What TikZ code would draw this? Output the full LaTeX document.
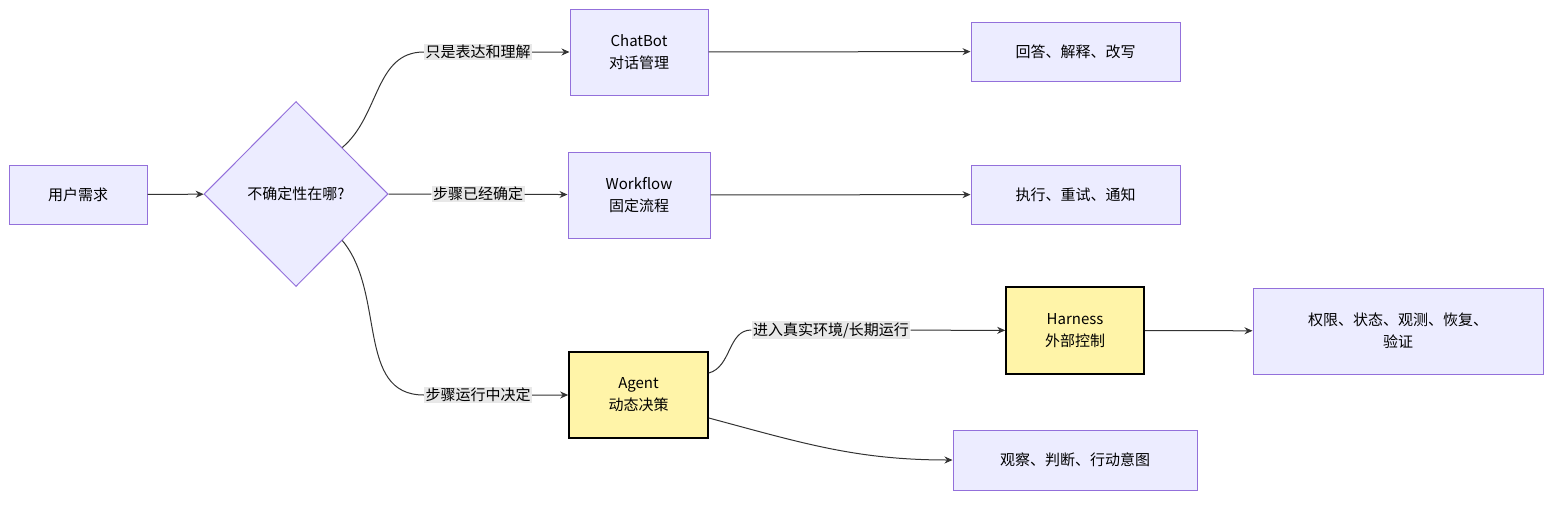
\documentclass[tikz,border=0pt]{standalone}
\usepackage{fontspec}
\setmainfont{Noto Sans CJK SC}
\usetikzlibrary{shapes.geometric,arrows.meta}
\definecolor{boxfill}{HTML}{ECECFF}
\definecolor{boxline}{HTML}{9370DB}
\definecolor{keyfill}{HTML}{FFF4A8}
\definecolor{edgecol}{HTML}{333333}
\definecolor{lblfill}{HTML}{E8E8E8}
\begin{document}
\begin{tikzpicture}[x=1pt,y=-1pt,font=\fontsize{15}{22}\selectfont]

\tikzset{box/.style={rectangle, draw=boxline, fill=boxfill, line width=1pt, align=center, inner sep=0pt}}
\tikzset{key/.style={box, draw=black, fill=keyfill, line width=1.6pt}}
\tikzset{choice/.style={diamond, draw=boxline, fill=boxfill, line width=1pt, inner sep=0pt, minimum width=184pt, minimum height=185pt}}
\tikzset{lbl/.style={fill=lblfill, inner sep=1.5pt}}
\tikzset{edge/.style={draw=edgecol, line width=1pt, -{Stealth[length=8pt,width=7pt]}}}

\useasboundingbox (0,0) rectangle (1568,506);

% Define nodes
\node (need) [box, minimum width=138pt, minimum height=59pt] at (78,194.5) {用户需求};
\node (where) [choice] at (296,194) {不确定性在哪?};
\node (chat) [box, minimum width=138pt, minimum height=86pt] at (639,52) {ChatBot\\对话管理};
\node (flow) [box, minimum width=142pt, minimum height=86pt] at (639,195) {Workflow\\固定流程};
\node (agent) [key, minimum width=139pt, minimum height=86pt] at (638.5,395) {Agent\\动态决策};
\node (answer) [box, minimum width=209pt, minimum height=59pt] at (1075.5,51.5) {回答、解释、改写};
\node (run) [box, minimum width=209pt, minimum height=59pt] at (1075.5,194.5) {执行、重试、通知};
\node (harness) [key, minimum width=138pt, minimum height=87pt] at (1075,330.5) {Harness\\外部控制};
\node (rights) [box, minimum width=290pt, minimum height=86pt] at (1398,331) {权限、状态、观测、恢复、\\验证};
\node (observe) [box, minimum width=244pt, minimum height=60pt] at (1075,460) {观察、判断、行动意图};

% Edge labels
\node (l1) [lbl] at (478,52) {只是表达和理解};
\node (l2) [lbl] at (478,194) {步骤已经确定};
\node (l3) [lbl] at (478,395) {步骤运行中决定};
\node (l4) [lbl] at (831,330) {进入真实环境/长期运行};

% Draw arrows
\draw [edge] (need) -- (where);
\draw [edge] (where.north east) to[out=40,in=180] (l1) -- (chat);
\draw [edge] (where) -- (l2) -- (flow);
\draw [edge] (where.south east) to[out=-50,in=180] (l3) -- (agent);
\draw [edge] (chat) -- (answer);
\draw [edge] (flow) -- (run);
\draw [edge] ([yshift=22pt]agent.east) to[out=15,in=180] (l4) -- (harness);
\draw [edge] (harness) -- (rights);
\draw [edge] ([yshift=-23pt]agent.east) to[out=-15,in=180] (observe);

\end{tikzpicture}
\end{document}
